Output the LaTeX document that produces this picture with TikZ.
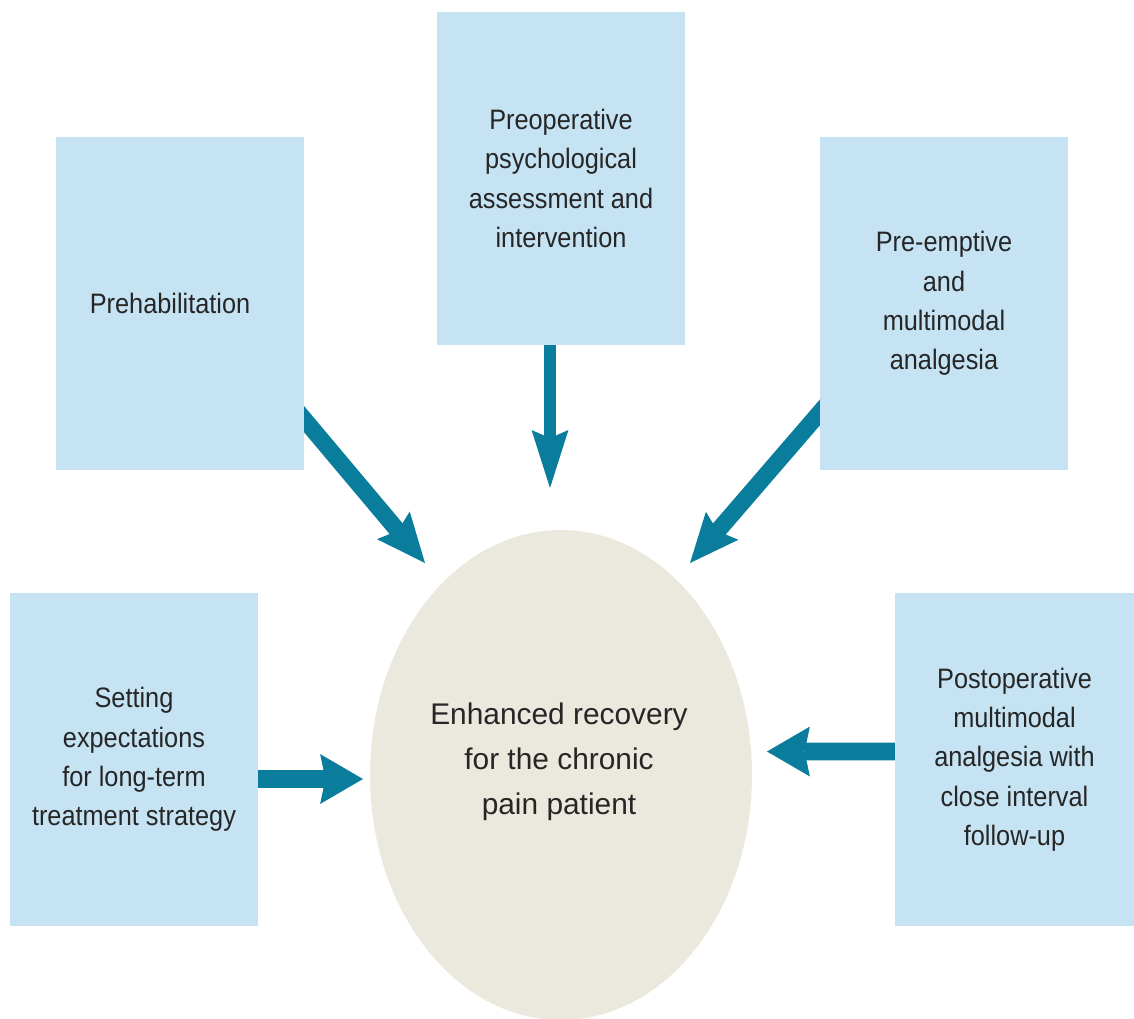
\documentclass[tikz,border=0pt]{standalone}
\usepackage{fontspec}
\setmainfont{Liberation Sans}[FakeStretch=0.9]
\newfontfamily\ovalfont{Liberation Sans}
\usetikzlibrary{arrows.meta,backgrounds,shapes.geometric}

\definecolor{boxblue}{HTML}{C5E3F2}
\definecolor{arrowteal}{HTML}{0B7D9C}
\definecolor{ovalbeige}{HTML}{EBE9DE}
\definecolor{textgray}{HTML}{262626}

\tikzset{
  stepbox/.style={rectangle, fill=boxblue, minimum width=2.48cm, minimum height=3.33cm,
    inner sep=0pt, align=center, text=textgray, font=\fontsize{8}{11.2}\selectfont},
  flat/.style={draw=arrowteal, line width=5.1pt,
    -{Stealth[length=12.2pt,width=14.2pt,inset=1.5pt,line width=0pt 0]}},
  slant/.style={draw=arrowteal, line width=4.8pt,
    -{Stealth[length=14pt,width=12.2pt,inset=2pt,line width=0pt 0]}},
  drop/.style={draw=arrowteal, line width=3.4pt,
    -{Stealth[length=16.5pt,width=10.5pt,inset=2.3pt,line width=0pt 0]}}
}

\begin{document}
\begin{tikzpicture}
  \useasboundingbox (0,0) rectangle (11.34,-10.18);

  % centre oval
  \node[ellipse, fill=ovalbeige, minimum width=3.82cm, minimum height=4.9cm, inner sep=0pt] (recovery) at (5.61,-7.75) {};
  \node[align=center, text=textgray, font=\ovalfont\fontsize{8.5}{12.8}\selectfont] (recovery-text) at (5.59,-7.62)
    {Enhanced recovery\\for the chronic\\pain patient};

  % boxes
  \node[stepbox] (prehab) at (1.80,-3.035) {Prehabilitation\hspace*{0.2cm}};
  \node[stepbox] (preop) at (5.61,-1.785) {Preoperative\\psychological\\assessment and\\intervention};
  \node[stepbox] (preempt) at (9.44,-3.035) {Pre-emptive\\and\\multimodal\\analgesia};
  \node[stepbox] (setting) at (1.34,-7.595) {Setting\\expectations\\for long-term\\treatment strategy};
  \node[stepbox, minimum width=2.39cm] (postop) at (10.145,-7.595) {Postoperative\\multimodal\\analgesia with\\close interval\\follow-up};

  % arrow tips
  \coordinate (prehab-tip) at (4.25,-5.63);
  \coordinate (preop-tip) at (5.50,-4.88);
  \coordinate (preempt-tip) at (6.90,-5.63);
  \coordinate (setting-tip) at (3.63,-7.79);
  \coordinate (postop-tip) at (7.67,-7.515);

  \begin{scope}[on background layer]
    \draw[slant] ([xshift=-1mm,yshift=-10.45mm]prehab.east) -- (prehab-tip);
    \draw[drop] ([xshift=-1.1mm,yshift=1mm]preop.south) -- (preop-tip);
    \draw[slant] ([xshift=1mm,yshift=-9.8mm]preempt.west) -- (preempt-tip);
    \draw[flat] ([xshift=-1mm,yshift=-1.95mm]setting.east) -- (setting-tip);
    \draw[flat] ([xshift=1mm,yshift=0.8mm]postop.west) -- (postop-tip);
  \end{scope}
\end{tikzpicture}
\end{document}
